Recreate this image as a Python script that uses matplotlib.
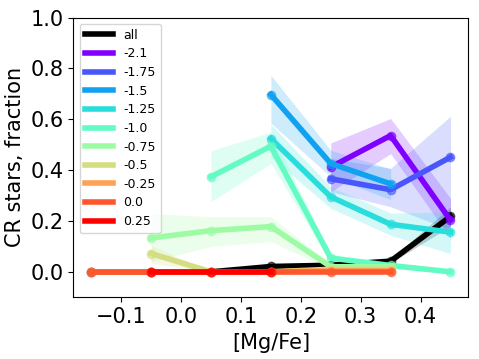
import numpy as np
import matplotlib
matplotlib.use("Agg")
import matplotlib.pyplot as plt
from matplotlib.ticker import MultipleLocator

nan = np.nan

# [Mg/Fe] bin centres
mgfe = [-0.15, -0.05, 0.05, 0.15, 0.25, 0.35, 0.45]

# fraction of CR stars per [Fe/H] bin, with lower / upper band
all_y = [0.0, 0.0, 0.0, 0.021, 0.026, 0.042, 0.218]
all_lo = [0.0, 0.0, 0.0, 0.015, 0.020, 0.035, 0.180]
all_hi = [0.0, 0.0, 0.0, 0.027, 0.032, 0.050, 0.256]

feh_labels = ["-2.1", "-1.75", "-1.5", "-1.25", "-1.0", "-0.75", "-0.5", "-0.25", "0.0", "0.25"]

frac = [
    [nan, nan, nan, nan, 0.412, 0.536, 0.203],
    [nan, nan, nan, nan, 0.366, 0.323, 0.451],
    [nan, nan, nan, 0.697, 0.426, 0.346, nan],
    [nan, nan, nan, 0.524, 0.295, 0.187, 0.156],
    [nan, nan, 0.374, 0.494, 0.054, 0.025, 0.0],
    [nan, 0.133, 0.162, 0.178, 0.020, 0.020, nan],
    [nan, 0.072, 0.0, 0.0, 0.010, 0.010, nan],
    [0.0, 0.0, 0.0, 0.0, 0.005, 0.005, nan],
    [0.0, 0.0, 0.0, 0.0, 0.0, 0.0, nan],
    [nan, 0.0, 0.0, 0.0, nan, nan, nan],
]
frac_lo = [
    [nan, nan, nan, nan, 0.315, 0.465, 0.133],
    [nan, nan, nan, nan, 0.315, 0.256, 0.165],
    [nan, nan, nan, 0.585, 0.374, 0.284, nan],
    [nan, nan, nan, 0.452, 0.250, 0.144, 0.072],
    [nan, nan, 0.276, 0.426, 0.035, 0.012, 0.0],
    [nan, 0.040, 0.100, 0.119, 0.010, 0.010, nan],
    [nan, 0.033, 0.0, 0.0, 0.0, 0.0, nan],
    [0.0, 0.0, 0.0, 0.0, 0.0, 0.0, nan],
    [0.0, 0.0, 0.0, 0.0, 0.0, 0.0, nan],
    [nan, 0.0, 0.0, 0.0, nan, nan, nan],
]
frac_hi = [
    [nan, nan, nan, nan, 0.507, 0.603, 0.289],
    [nan, nan, nan, nan, 0.446, 0.407, 0.612],
    [nan, nan, nan, 0.773, 0.478, 0.405, nan],
    [nan, nan, nan, 0.580, 0.334, 0.231, 0.235],
    [nan, nan, 0.476, 0.550, 0.070, 0.028, 0.0],
    [nan, 0.229, 0.217, 0.217, 0.030, 0.030, nan],
    [nan, 0.105, 0.0, 0.0, 0.020, 0.020, nan],
    [0.0, 0.0, 0.0, 0.0, 0.010, 0.010, nan],
    [0.0, 0.0, 0.0, 0.0, 0.0, 0.0, nan],
    [nan, 0.0, 0.0, 0.0, nan, nan, nan],
]

colors = plt.cm.rainbow(np.linspace(0, 1, len(feh_labels)))

fig = plt.figure(figsize=(4.79, 3.59), dpi=100)
ax = fig.add_axes([0.153, 0.172, 0.825, 0.779])

x = np.array(mgfe)

# all stars
ax.fill_between(x, all_lo, all_hi, color="k", alpha=0.2, lw=0)
ax.plot(x, all_y, color="k", lw=4, label="all")
ax.plot(x, all_y, "o", color="k", ms=6, alpha=0.6)

for lab, c, y, lo, hi in zip(feh_labels, colors, frac, frac_lo, frac_hi):
    y = np.array(y)
    m = ~np.isnan(y)
    ax.fill_between(x[m], np.array(lo)[m], np.array(hi)[m], color=c, alpha=0.2, lw=0)
    ax.plot(x[m], y[m], color=c, lw=4, label=lab)
    ax.plot(x[m], y[m], "o", color=c, ms=6, alpha=0.6)

ax.set_ylim(-0.1, 1.0)
ax.xaxis.set_major_locator(MultipleLocator(0.1))
ax.yaxis.set_major_locator(MultipleLocator(0.2))
ax.set_xlabel("[Mg/Fe]", fontsize=15)
ax.set_ylabel("CR stars, fraction", fontsize=15)
ax.tick_params(labelsize=15)
ax.legend(loc="upper left", fontsize=9, handlelength=2.3, labelspacing=0.45)

plt.savefig("out.png", dpi=100)
